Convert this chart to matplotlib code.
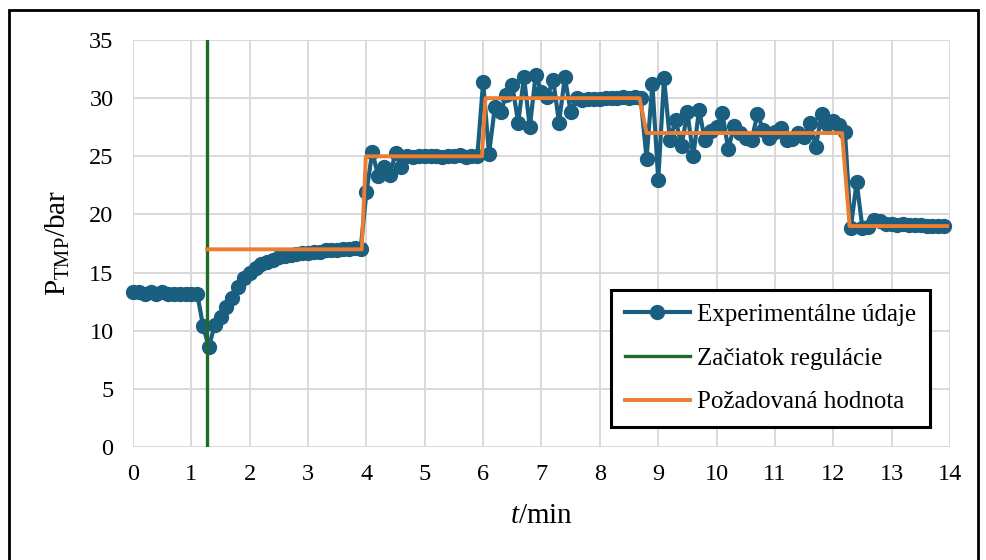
import numpy as np
import matplotlib
matplotlib.use("Agg")
import matplotlib.pyplot as plt
from matplotlib.patches import Rectangle

plt.rcParams['font.family'] = ['Liberation Serif', 'DejaVu Serif']
plt.rcParams['mathtext.fontset'] = 'custom'
plt.rcParams['mathtext.rm'] = 'Liberation Serif'
plt.rcParams['mathtext.it'] = 'Liberation Serif:italic'

# ---- data ----
sample_step_min = 0.1
pressure_bar = [
    13.3, 13.3, 13.2, 13.3, 13.2, 13.3, 13.2, 13.2, 13.2, 13.2, 13.2, 13.2,
    10.4, 8.6, 10.5, 11.2, 12.0, 12.8, 13.8, 14.5, 15.0, 15.4, 15.7, 15.9,
    16.1, 16.3, 16.4, 16.5, 16.6, 16.7, 16.7, 16.8, 16.8, 16.9, 16.9, 16.9,
    17.0, 17.0, 17.1, 17.0,
    21.9, 25.4, 23.3, 24.1, 23.4, 25.3, 24.1, 25.0, 24.9, 25.0,
    25.0, 25.0, 25.0, 24.9, 25.0, 25.0, 25.1, 24.9, 25.0, 25.0,
    31.4, 25.2, 29.2, 28.8, 30.3, 31.1, 27.9, 31.8, 27.5, 32.0,
    30.5, 30.1, 31.6, 27.9, 31.8, 28.8, 30.0, 29.8, 29.9, 29.9,
    29.9, 30.0, 30.0, 30.0, 30.1, 30.0, 30.1, 30.0,
    24.8, 31.2, 23.0, 31.7, 26.4, 28.1, 25.9, 28.8, 25.0, 29.0,
    26.4, 27.2, 27.5, 28.7, 25.6, 27.6, 27.0, 26.6, 26.4, 28.6,
    27.3, 26.6, 27.1, 27.4, 26.4, 26.5, 27.0, 26.7, 27.9, 25.8,
    28.6, 27.8, 28.0, 27.7, 27.1,
    18.8, 22.8, 18.8, 18.9, 19.5, 19.4, 19.2, 19.2, 19.1, 19.2,
    19.1, 19.1, 19.1, 19.0, 19.0, 19.0, 19.0,
]
time_min = [round(i * sample_step_min, 1) for i in range(len(pressure_bar))]

setpoint_t = [1.27, 3.92, 3.99, 5.98, 6.04, 8.68, 8.80, 12.15, 12.28, 13.95]
setpoint_v = [17, 17, 25, 25, 30, 30, 27, 27, 19, 19]

control_start_t = 1.27

labels = ['Experimentálne údaje', 'Začiatok regulácie', 'Požadovaná hodnota']
x_ticks = list(range(0, 15))
y_ticks = list(range(0, 36, 5))

c_blue = '#1a5f80'
c_green = '#1e6b2a'
c_orange = '#ed7d31'

W, H = 987, 560
fig = plt.figure(figsize=(W / 100, H / 100), dpi=100)
ax = fig.add_axes([133 / W, 1 - 447 / H, (950 - 133) / W, (447 - 40) / H])

ax.plot(time_min, pressure_bar, color=c_blue, lw=3.0, marker='o', ms=10,
        label=labels[0], zorder=3, clip_on=False)
ax.axvline(control_start_t, color=c_green, lw=2.4, label=labels[1], zorder=4)
ax.plot(setpoint_t, setpoint_v, color=c_orange, lw=2.8, label=labels[2], zorder=5)

ax.set_xlim(0, 14)
ax.set_ylim(0, 35)
ax.set_xticks(x_ticks)
ax.set_yticks(y_ticks)
ax.grid(True, color='#d9d9d9', lw=1.4, zorder=0)
ax.set_axisbelow(True)
for s in ax.spines.values():
    s.set_visible(False)
ax.tick_params(axis='both', length=0, labelsize=17.5, colors='black')
ax.tick_params(axis='y', pad=14)
ax.tick_params(axis='x', pad=12)

ax.set_xlabel(r'$t$/min', fontsize=21, labelpad=13)
ax.set_ylabel(r'P$_{\mathrm{TMP}}$/bar', fontsize=21, labelpad=12)

leg = ax.legend(loc='lower left', bbox_to_anchor=(0.585, 0.049), fontsize=18,
                frameon=True, fancybox=False, edgecolor='black', framealpha=1,
                handlelength=2.6, handletextpad=0.3, labelspacing=0.85,
                borderpad=0.55, borderaxespad=0, numpoints=1)
leg.get_frame().set_linewidth(2.2)

fig.patches.append(Rectangle((9 / W, -0.05), (978 - 9) / W, 1 - 10 / H + 0.05,
                             transform=fig.transFigure, fill=False,
                             edgecolor='black', lw=2.0, clip_on=False))

fig.savefig('out.png', dpi=100)
